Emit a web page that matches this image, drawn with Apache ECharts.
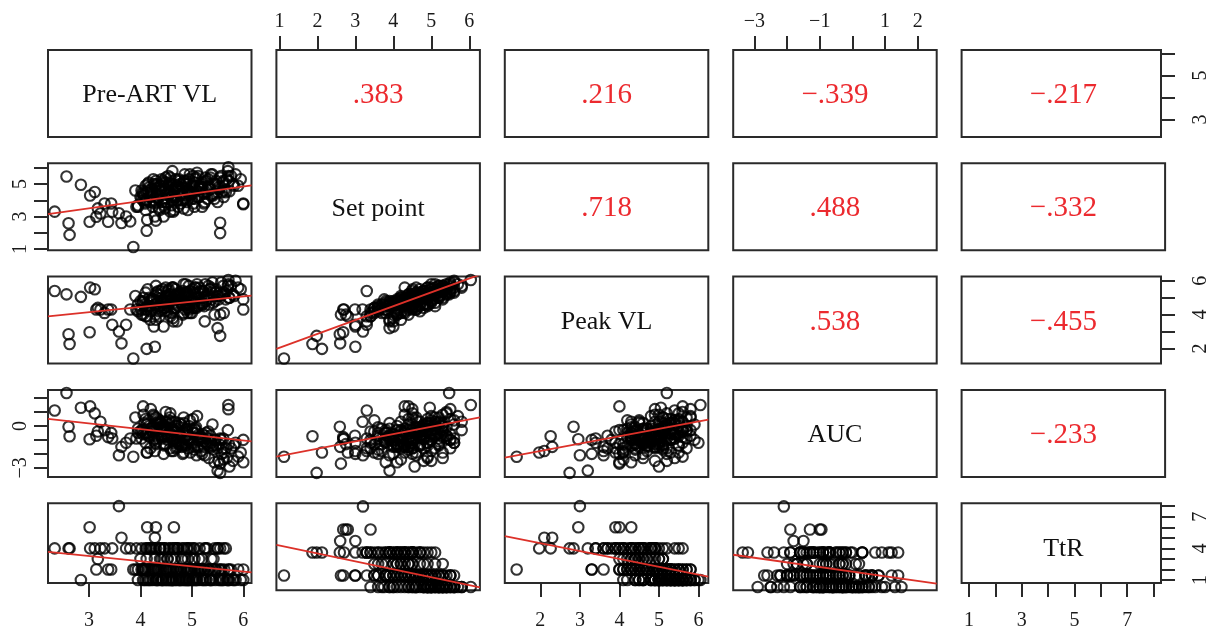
<!DOCTYPE html>
<html>
<head>
<meta charset="utf-8">
<script src="https://cdn.jsdelivr.net/npm/echarts@6/dist/echarts.min.js"></script>
<style>
  html, body { margin: 0; padding: 0; background: #ffffff; }
  #chart { width: 1211px; height: 631px; }
</style>
</head>
<body>
<div id="chart"></div>
<script>
// Variables of the scatterplot matrix
const variableNames = ['Pre-ART VL', 'Set point', 'Peak VL', 'AUC', 'TtR'];

// One value per subject, same order in every array (null = not recorded)
const preArtVL = [
  2.33, 2.56, 2.60, 2.62, 2.84, 3.01, 3.02, 3.11, 3.14, 3.17, 3.22, 3.30, 3.37, 3.43, 3.45, 3.58, 3.63, 3.72, 3.80, 3.86, 5.55, 4.12,
  4.05, 4.20, 4.35, 4.50, 4.62, 4.75, 4.88, 5.02, 5.15, 5.28, 5.40, 5.55, 5.70, 5.85, 4.15, 4.42, 4.58, 4.70, 4.95, 5.10, 4.30, 4.80, 5.35, 5.60, 3.95,
  3.95, 4.05, 4.10, 4.18, 4.25, 4.32, 4.40, 4.48, 4.55, 4.62, 4.70, 4.78, 4.85, 4.92, 5.00, 5.08, 5.16, 5.24, 5.32, 5.45, 5.58, 5.72, 5.90, 6.00, 4.22, 4.64, 4.96, 5.20, 3.90,
  4.00, 4.12, 4.28, 4.38, 4.52, 4.66, 4.80, 4.92, 5.05, 5.20, 5.38, 4.45,
  3.92, 4.02, 4.10, 4.20, 4.30, 4.38, 4.46, 4.55, 4.63, 4.72, 4.84, 4.94, 5.05, 5.15, 5.25, 5.50, 5.62, 4.26, 4.58, 4.90,
  4.13, 4.30, 4.65, 4.28, 4.45, 5.71, 5.71, 6.00, 5.55, 5.50, 5.73, 5.80,
  4.02, 4.08, 4.14, 4.19, 4.24, 4.29, 4.33, 4.37, 4.41, 4.44, 4.47, 4.51, 4.54, 4.57, 4.60, 4.64, 4.67, 4.69, 4.73, 4.76,
  4.79, 4.82, 4.86, 4.89, 4.91, 4.94, 4.97, 5.00, 5.03, 5.06, 5.09, 5.12, 5.14, 5.18, 5.22, 5.26, 5.30, 5.33, 5.37, 5.42,
  5.47, 5.52, 5.57, 5.63, 5.68, 5.76, 5.82, 5.95, 4.06, 4.16, 4.36, 4.49, 4.71, 4.84, 5.01, 5.24, 5.44, 4.62, 4.26, 4.92,
  4.04, 4.11, 4.17, 4.23, 4.31, 4.34, 4.39, 4.43, 4.46, 4.50, 4.53, 4.56, 4.59, 4.61, 4.65, 4.68, 4.72, 4.74, 4.77, 4.81,
  4.83, 4.87, 4.90, 4.93, 4.98, 5.04, 5.07, 5.11, 5.17, 5.21, 5.27, 5.31, 5.36, 5.41, 5.46, 5.53, 5.61, 5.66, 4.09, 4.40
];
const setPoint = [
  3.3, 5.47, 2.59, 1.87, 4.96, 2.68, 4.3, 4.51, 2.99, 3.5, 3.19, 3.8, 2.68, 3.8, 3.3, 3.2, 2.6, 3.0, 2.7, 1.12, 1.98, 2.12,
  4.0, 4.3, 4.8, 5.1, 4.6, 5.3, 5.0, 5.5, 4.9, 5.2, 5.6, 5.4, 5.8, 5.6, 4.6, 3.9, 5.4, 4.2, 4.5, 5.7, 5.2, 4.4, 4.7, 5.1, 3.7,
  3.6, 4.4, 4.9, 3.9, 5.3, 4.2, 4.6, 3.5, 5.0, 4.3, 4.8, 3.8, 5.2, 4.6, 4.1, 5.4, 4.8, 4.4, 5.3, 5.0, 4.5, 5.2, 4.9, 3.8, 4.7, 3.3, 5.6, 3.6, 4.6,
  4.2, 4.5, 3.8, 4.9, 4.1, 4.7, 4.0, 4.5, 3.6, 4.8, 4.3, 5.1,
  3.6, 4.1, 3.4, 4.5, 3.9, 4.7, 3.7, 4.3, 4.0, 4.9, 3.5, 4.4, 4.1, 4.7, 3.9, 4.5, 4.2, 5.0, 3.3, 4.8,
  2.8, 2.75, 3.4, 3.0, 3.0, 6.04, 5.5, 3.76, 2.62, 3.9, 4.56, 5.0,
  4.6, 3.9, 5.0, 4.2, 3.6, 4.9, 4.4, 3.4, 5.3, 4.1, 4.7, 3.9, 5.5, 4.5, 3.7, 5.0, 4.2, 4.8, 3.6, 5.2,
  4.4, 4.0, 5.6, 4.7, 3.9, 5.3, 4.3, 4.9, 3.8, 5.1, 4.6, 5.5, 4.2, 5.0, 4.5, 5.4, 4.1, 4.9, 5.6, 4.4,
  5.2, 4.8, 5.5, 4.6, 5.3, 5.5, 4.9, 5.3, 4.3, 5.1, 3.5, 5.4, 4.0, 5.1, 4.4, 3.8, 4.1, 5.8, 4.0, 3.4,
  4.5, 4.0, 4.8, 4.3, 5.0, 4.1, 4.6, 5.2, 3.9, 4.7, 4.4, 5.1, 4.2, 4.9, 4.5, 5.3, 4.0, 4.6, 5.0, 4.3,
  4.8, 4.1, 5.2, 4.6, 4.4, 4.9, 5.3, 4.2, 4.7, 5.1, 4.5, 4.8, 5.4, 4.3, 5.0, 4.7, 5.2, 4.5, 3.8, 4.9
];
const peakVL = [
  5.4, 5.2, 2.84, 2.26, 5.05, 2.96, 5.6, 5.5, 4.3, 4.4, 4.3, 4.1, 4.3, 4.3, 3.4, 3.0, 2.3, 3.4, 4.3, 1.4, 2.74, 1.97,
  4.8, 4.2, 5.4, 5.0, 5.6, 5.3, 5.8, 5.5, 5.6, 5.1, 5.9, 5.3, 5.7, 6.0, 4.5, 4.8, 5.2, 5.1, 4.6, 5.8, 5.7, 4.9, 5.5, 5.2, 4.6,
  4.2, 4.0, 5.3, 4.5, 4.9, 5.0, 4.3, 4.4, 5.5, 4.9, 4.6, 4.7, 5.1, 5.3, 4.1, 5.2, 5.4, 5.0, 5.7, 4.8, 5.2, 5.0, 5.6, 4.3, 4.9, 3.6, 5.4, 4.6, 5.1,
  4.8, 4.3, 4.6, 4.5, 4.2, 5.1, 4.7, 4.4, 4.4, 4.6, 4.9, 4.7,
  4.3, 4.0, 3.9, 4.9, 3.7, 4.5, 4.4, 4.8, 3.8, 5.2, 4.1, 4.3, 4.7, 4.6, 3.6, 5.1, 4.1, 4.8, 3.9, 5.0,
  3.9, 4.0, 4.3, 2.1, 3.3, 6.05, 5.8, 4.9, 4.0, 3.2, 5.0, 5.2,
  4.3, 4.6, 5.5, 3.7, 4.4, 4.6, 5.2, 3.9, 5.0, 4.8, 4.2, 4.7, 5.4, 5.1, 4.1, 5.6, 4.9, 4.4, 4.5, 5.0,
  5.2, 4.0, 5.3, 5.3, 4.6, 5.7, 4.1, 5.0, 4.8, 5.6, 4.4, 5.3, 5.0, 4.7, 5.4, 5.8, 4.9, 4.6, 5.6, 5.1,
  5.5, 4.9, 5.9, 5.3, 5.4, 5.7, 5.1, 5.5, 5.0, 4.5, 4.2, 5.6, 3.6, 5.8, 4.4, 4.5, 4.0, 5.6, 3.3, 4.1,
  4.7, 4.5, 5.0, 4.9, 5.3, 4.4, 4.8, 5.5, 4.6, 5.1, 4.5, 5.2, 4.8, 5.0, 4.4, 5.5, 4.7, 5.2, 4.9, 4.6,
  5.4, 4.3, 5.1, 5.0, 4.8, 5.3, 5.6, 4.5, 5.0, 5.4, 4.8, 5.2, 5.5, 4.7, 5.3, 5.1, 5.7, 4.9, 4.3, 5.4
];
const auc = [
  1.11, 2.36, -0.06, -0.74, 1.3, -0.95, 1.4, 0.9, -0.7, -0.4, 0.3, -0.3, -0.8, -0.5, -0.9, -2.1, -1.5, -1.2, -0.9, -2.21, -3.36, -1.9,
  -0.6, -0.2, 0.1, 0.3, -0.4, 0.2, -0.3, 0.5, -0.8, -0.5, 0.1, -0.9, -0.3, -1.2, 0.4, -0.9, 0.9, -1.1, -1.0, 0.7, 0.6, -1.5, -1.4, -1.6, -0.2,
  -0.5, 1.4, 0.5, -0.8, 0.8, -0.3, -0.1, -1.3, 0.4, -0.7, -0.2, -1.2, 0.2, -0.6, -1.3, -0.1, -0.9, -1.5, -0.4, -1.0, -2.0, -1.3, -2.2, -2.6, -0.4, -1.8, 0.4, -2.0, 0.6,
  -0.4, 0.1, -0.9, 0.2, -0.8, -0.3, -1.4, -0.7, -1.7, -0.9, -1.5, -0.2,
  -0.9, -0.3, -1.2, 1.2, -0.7, 0.3, -1.3, -0.5, -1.0, 0.0, -1.9, -0.9, -1.5, -0.8, -2.1, -1.6, -2.4, 0.7, -1.6, -0.2,
  -1.9, -1.3, -1.0, -1.8, -2.0, 1.5, 1.2, -1.0, -2.7, -3.2, -2.9, -2.5,
  -0.9, 0.2, -0.5, -1.6, -0.1, -1.2, 0.5, -0.4, -0.8, 0.0, -1.4, -0.2, -0.6, 0.6, -1.8, -0.3, 0.3, -1.6, -0.7, -1.1,
  0.1, -2.0, -0.9, -0.4, -1.0, 0.0, -1.9, -1.2, -0.5, -0.2, -2.1, -1.0, -0.6, -1.8, -0.9, -0.7, -1.3, -2.3, -1.2, -1.7,
  -1.4, -2.5, -1.0, -1.9, -2.3, -1.6, -1.4, -1.9, 0.8, -0.7, 0.4, 1.0, -1.5, 0.6, -0.3, -1.1, -2.6, 0.3, -1.0, -1.6,
  -0.3, -0.6, 0.0, -0.4, 0.2, -0.9, -0.2, 0.3, -0.7, -0.1, -1.0, 0.1, -0.8, -0.3, -1.2, 0.0, -1.1, -0.5, -0.6, -1.3,
  -0.4, -1.4, -0.2, -0.9, -1.1, -0.5, -0.3, -1.5, -0.8, -0.6, -1.2, -0.9, -0.7, -1.4, -1.0, -1.3, -0.9, -1.6, -0.5, 0.2
];
const ttr = [
  4, null, 4, 4, 1, 6, 4, 4, 2, 3, 4, 4, 2, 2, 4, 8, 5, 4, 4, 2, 4, 4,
  1, 1, 1, 1, 1, 1, 1, 1, 1, 1, 1, 1, 1, 1, 1, 1, 1, 1, 1, 1, 1, 1, 1, 1, 1,
  2, 2, 2, 2, 2, 2, 2, 2, 2, 2, 2, 2, 2, 2, 2, 2, 2, 2, 2, 2, 2, 2, 2, 2, 2, 2, 2, 2, 2,
  3, 3, 3, 3, 3, 3, 3, 3, 3, 3, 3, 3,
  4, 4, 4, 4, 4, 4, 4, 4, 4, 4, 4, 4, 4, 4, 4, 4, 4, 4, 4, 4,
  6, 6, 6, 5, 2, 1, 2, 1, 2, 4, 1, 1,
  2, 1, 2, 4, 1, 2, 1, 4, 3, 1, 4, 2, 1, 2, 3, 1, 4, 2, 4, 1,
  2, 3, 1, 2, 4, 1, 2, 1, 4, 2, 1, 2, 3, 2, 1, 1, 4, 2, 1, 3,
  2, 1, 1, 2, 1, 2, 1, 1, 2, 4, 2, 1, 4, 2, 3, 2, 4, 1, 2, 1,
  2, 1, 1, 4, 1, 2, 4, 1, 4, 2, 3, 1, 2, 1, 4, 1, 2, 2, 1, 4,
  1, 3, 1, 2, 4, 1, 1, 2, 2, 1, 4, 2, 1, 2, 1, 2, 1, 4, 2, 1
];

// Correlation coefficients for the upper panels, row by row
const corrLabels = ['.383', '.216', '−.339', '−.217', '.718', '.488', '−.332', '.538', '−.455', '−.233'];

// Fitted lines (y = intercept + slope * x) for the lower panels, row by row
const fitIntercepts = [2.17, 3.21, 1.21, 1.39, -2.69, -2.85, 4.74, 5.29, 5.97, 2.33];
const fitSlopes = [0.447, 0.31, 0.822, -0.404, 0.526, 0.528, -0.49, -0.69, -0.744, -0.403];

// Axis extents and tick marks of each variable
const axisMin = [2.2, 0.92, 1.1, -3.65, 0.72];
const axisMax = [6.16, 6.28, 6.25, 2.58, 8.28];
const tickValues = [
  [3, 4, 5, 6],
  [1, 2, 3, 4, 5, 6],
  [2, 3, 4, 5, 6],
  [-3, -2, -1, 0, 1, 2],
  [1, 2, 3, 4, 5, 6, 7, 8]
];
const xTickLabels = [[3, 4, 5, 6], [1, 2, 3, 4, 5, 6], [2, 3, 4, 5, 6], [-3, -1, 1, 2], [1, 3, 5, 7]];
const yTickLabels = [[3, 5], [1, 3, 5], [2, 4, 6], [-3, 0], [1, 4, 7]];

const columns = [preArtVL, setPoint, peakVL, auc, ttr];

// Panel layout
const panelLeft = 48, panelTop = 50, panelW = 203.5, panelH = 87;
const stepX = 228.4, stepY = 113.3;
const serif = '"Liberation Serif", "DejaVu Serif", serif';
const ink = '#2a2a2a';
const red = '#ec2a2f';

const fmt = v => (v < 0 ? '−' + Math.abs(v) : String(v));

const grids = [], xAxes = [], yAxes = [], series = [], graphics = [];
let lowerIdx = 0, upperIdx = 0;
const n = variableNames.length;

for (let i = 0; i < n; i++) {
  for (let j = 0; j < n; j++) {
    const k = i * n + j;
    const left = panelLeft + j * stepX;
    const top = panelTop + i * stepY;
    grids.push({
      left: left, top: top, width: panelW, height: panelH,
      show: true, borderColor: ink, borderWidth: 2, backgroundColor: 'transparent'
    });

    const showX = (i === 0 && j % 2 === 1) || (i === n - 1 && j % 2 === 0);
    const showY = (j === 0 && i % 2 === 1) || (j === n - 1 && i % 2 === 0);

    xAxes.push({
      type: 'value', gridIndex: k, min: axisMin[j], max: axisMax[j],
      position: i === 0 ? 'top' : 'bottom',
      axisLine: { show: false }, splitLine: { show: false },
      axisTick: { show: showX, customValues: tickValues[j], length: 14, inside: false,
                  lineStyle: { color: ink, width: 2 } },
      axisLabel: { show: showX, customValues: xTickLabels[j], formatter: fmt,
                   margin: i === 0 ? 18 : 28,
                   fontFamily: serif, fontSize: 20, color: '#1a1a1a' }
    });
    yAxes.push({
      type: 'value', gridIndex: k, min: axisMin[i], max: axisMax[i],
      position: j === 0 ? 'left' : 'right',
      axisLine: { show: false }, splitLine: { show: false },
      axisTick: { show: showY, customValues: tickValues[i], length: 14, inside: false,
                  lineStyle: { color: ink, width: 2 } },
      axisLabel: { show: showY, customValues: yTickLabels[i], formatter: fmt, rotate: 90,
                   margin: j === 0 ? 17 : 30,
                   fontFamily: serif, fontSize: 20, color: '#1a1a1a' }
    });

    const cx = left + panelW / 2, cy = top + panelH / 2 + 2;
    if (i === j) {
      graphics.push({ type: 'text', x: cx, y: cy, style: {
        text: variableNames[i], align: 'center', verticalAlign: 'middle',
        font: '26px ' + serif, fill: '#111' } });
    } else if (j > i) {
      graphics.push({ type: 'text', x: cx, y: cy, style: {
        text: corrLabels[upperIdx++], align: 'center', verticalAlign: 'middle',
        font: '29px ' + serif, fill: red } });
    } else {
      const xs = columns[j], ys = columns[i];
      const pts = [];
      xs.forEach((x, m) => {
        if (x !== null && ys[m] !== null) pts.push([x, ys[m]]);
      });
      series.push({
        type: 'scatter', xAxisIndex: k, yAxisIndex: k, data: pts,
        symbol: 'circle', symbolSize: 10.5, clip: false, silent: true,
        itemStyle: { color: 'rgba(0,0,0,0)', borderColor: '#000000', borderWidth: 2.1 }
      });
      const a = fitIntercepts[lowerIdx], b = fitSlopes[lowerIdx];
      lowerIdx++;
      series.push({
        type: 'line', xAxisIndex: k, yAxisIndex: k, clip: true, silent: true,
        symbol: 'none', z: 5,
        data: [[axisMin[j], a + b * axisMin[j]], [axisMax[j], a + b * axisMax[j]]],
        lineStyle: { color: '#dc3129', width: 1.8 }
      });
    }
  }
}

const chart = echarts.init(document.getElementById('chart'), null, { renderer: 'canvas' });
chart.setOption({
  animation: false,
  backgroundColor: '#ffffff',
  grid: grids,
  xAxis: xAxes,
  yAxis: yAxes,
  series: series,
  graphic: graphics
});
</script>
</body>
</html>
